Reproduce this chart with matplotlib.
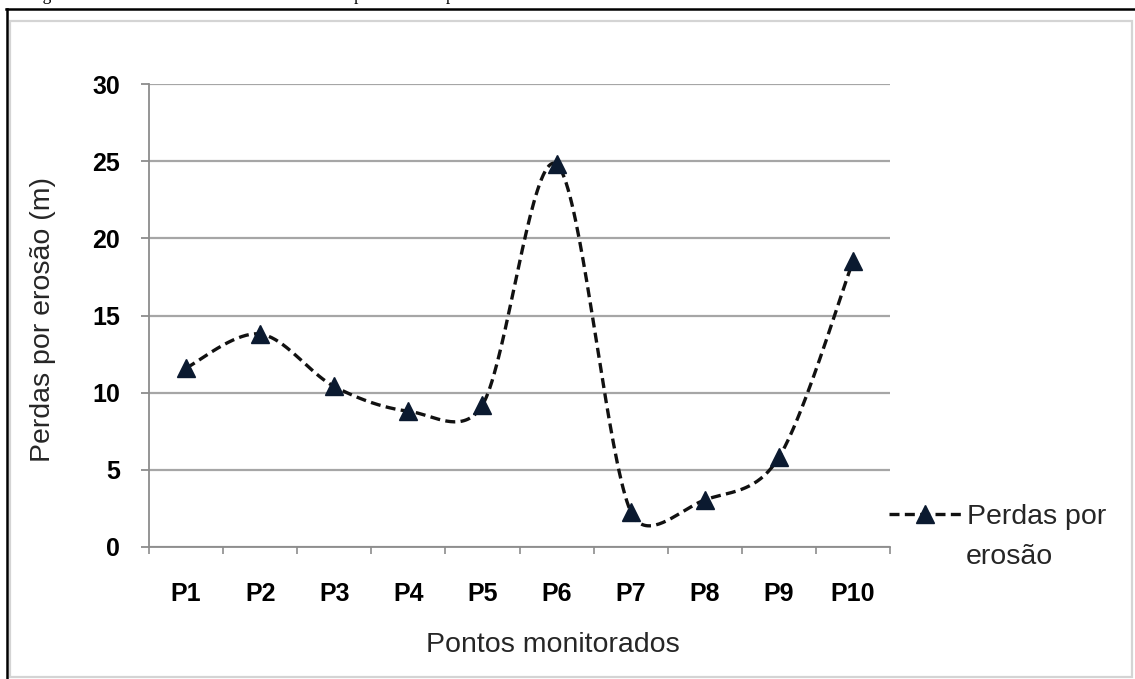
import numpy as np
import matplotlib
matplotlib.use("Agg")
import matplotlib.pyplot as plt
from matplotlib.lines import Line2D
from matplotlib.patches import Rectangle

pontos = ["P1", "P2", "P3", "P4", "P5", "P6", "P7", "P8", "P9", "P10"]
perdas = [11.6, 13.8, 10.4, 8.8, 9.2, 24.8, 2.3, 3.05, 5.8, 18.5]
yticks = [0, 5, 10, 15, 20, 25, 30]

serie_label = ["Perdas por", "erosão"]
ylabel = "Perdas por erosão (m)"
xlabel = "Pontos monitorados"
caption = "Figura 6 – Resultados nos locais monitorados: perdas totais por erosão"

W, H = 1135, 679
fig = plt.figure(figsize=(W / 100, H / 100), dpi=100)
fig.patch.set_facecolor("white")

sans = ["Liberation Sans", "DejaVu Sans"]
narrow = ["Liberation Sans Narrow", "Liberation Sans", "DejaVu Sans"]

ax = fig.add_axes([149 / W, 1 - 547 / H, 741 / W, 463 / H])
x = np.arange(len(pontos))
ax.set_xlim(-0.5, len(pontos) - 0.5)
ax.set_ylim(0, 30)


def excel_smooth(xs, ys, n=40):
    # Excel style bezier smoothing, done in pixel space
    pts = ax.transData.transform(np.column_stack([xs, ys]))
    out = [pts[0]]
    m = len(pts)
    for i in range(m - 1):
        p0 = pts[i - 1] if i > 0 else pts[i]
        p1, p2 = pts[i], pts[i + 1]
        p3 = pts[i + 2] if i + 2 < m else pts[i + 1]
        d12 = np.hypot(*(p2 - p1))
        d02 = np.hypot(*(p2 - p0))
        d13 = np.hypot(*(p3 - p1))
        f1 = 1 / 6 if d02 / 6 < d12 / 2 else d12 / (2 * d02)
        f2 = 1 / 6 if d13 / 6 < d12 / 2 else d12 / (2 * d13)
        c1 = p1 + f1 * (p2 - p0)
        c2 = p2 - f2 * (p3 - p1)
        t = np.linspace(0, 1, n)[1:, None]
        seg = (1 - t) ** 3 * p1 + 3 * (1 - t) ** 2 * t * c1 + 3 * (1 - t) * t ** 2 * c2 + t ** 3 * p2
        out.extend(seg)
    return ax.transData.inverted().transform(np.array(out))


# grid
ax.set_yticks(yticks)
ax.yaxis.grid(True, color="#a6a6a6", lw=1.6)
ax.set_axisbelow(True)

curve = excel_smooth(x, perdas)
ax.plot(curve[:, 0], curve[:, 1], color="#111111", lw=2.4, ls=(0, (3.0, 1.6)),
        solid_capstyle="butt", dash_capstyle="butt", zorder=3)
ax.plot(x, perdas, ls="none", marker="^", ms=13, color="#0b1a30", zorder=4)

for s in ["top", "right"]:
    ax.spines[s].set_visible(False)
for s in ["left", "bottom"]:
    ax.spines[s].set_color("#8c8c8c")
    ax.spines[s].set_linewidth(1.3)

ax.set_xticks(x)
ax.set_xticklabels(pontos, fontfamily=narrow, fontweight="bold", fontsize=18)
ax.set_xticks(np.arange(-0.5, len(pontos)), minor=True)
ax.tick_params(axis="x", which="major", length=0, pad=25)
ax.tick_params(axis="x", which="minor", length=5, width=1.2, color="#8c8c8c", direction="out")
ax.tick_params(axis="y", length=6, width=1.3, color="#8c8c8c", pad=15)
for lab in ax.get_yticklabels():
    lab.set_fontfamily(sans)
    lab.set_fontweight("bold")
    lab.set_fontsize(18)

fig.text(43 / W, 1 - 320 / H, ylabel, rotation=90, ha="center", va="center",
         fontfamily=sans, fontsize=20.5, color="#262626")
fig.text(553 / W, 1 - 645 / H, xlabel, ha="center", va="center",
         fontfamily=sans, fontsize=20.5, color="#262626")

handle = Line2D([], [], color="#111111", lw=2.4, ls=(0, (3.0, 1.6)),
                marker="^", ms=13, markerfacecolor="#0b1a30", markeredgecolor="#0b1a30")
leg = fig.legend([handle], [serie_label[0]], loc="center left",
                 bbox_to_anchor=(889 / W, 1 - 517 / H), frameon=False,
                 handlelength=2.55, handletextpad=0.2, borderpad=0, borderaxespad=0,
                 numpoints=1, prop={"family": sans, "size": 20.5})
for t in leg.get_texts():
    t.set_color("#262626")
fig.text(966 / W, 1 - 557 / H, serie_label[1], ha="left", va="center",
         fontfamily=sans, fontsize=20.5, color="#262626")

# page frame and chart border
fig.add_artist(Line2D([6 / W, 1], [1 - 8.5 / H, 1 - 8.5 / H], transform=fig.transFigure,
                      color="black", lw=1.8))
fig.add_artist(Line2D([6.5 / W, 6.5 / W], [0, 1 - 8.5 / H], transform=fig.transFigure,
                      color="black", lw=1.8))
fig.add_artist(Rectangle((10 / W, 2 / H), 1122 / W, 656 / H, transform=fig.transFigure,
                         fill=False, edgecolor="#d4d4d4", lw=1.6))

# caption, mostly cut off above the page like in the source scan
fig.text(28 / W, 1.0, caption, ha="left", va="baseline",
         fontfamily=["Liberation Serif", "DejaVu Serif"], fontsize=12.5, color="black")

fig.savefig("out.png", dpi=100)
